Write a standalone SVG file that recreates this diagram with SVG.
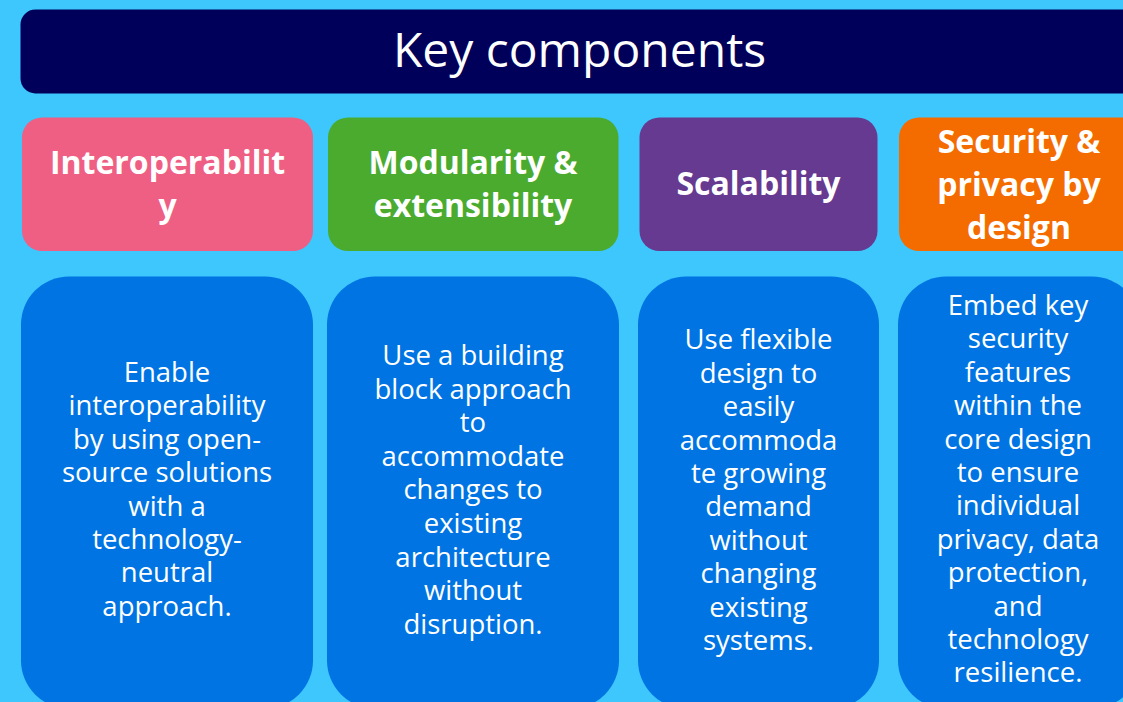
<svg xmlns="http://www.w3.org/2000/svg" width="1123" height="702" viewBox="0 0 1123 702">
<style>
.title{font-family:"Open Sans","Liberation Sans",sans-serif;font-size:48px;fill:#fff;text-anchor:middle}
.head{font-family:"Open Sans","Liberation Sans",sans-serif;font-weight:bold;font-size:32px;fill:#fff;text-anchor:middle}
.body{font-family:"Open Sans","Liberation Sans",sans-serif;font-size:27.5px;fill:#fff;text-anchor:middle}
.card{fill:#0074e3}
</style>
<rect x="0" y="0" width="1123" height="702" fill="#3dc7fd"/>
<g id="title">
<rect x="20.5" y="9.5" width="1125" height="84" rx="15" fill="#00005a"/>
<text class="title" x="579.5" y="67">Key components</text>
</g>
<g id="header-interoperability">
<rect x="22" y="117.5" width="291" height="133.5" rx="20" fill="#ef5f84"/>
<text class="head" x="167.5" y="174">Interoperabilit</text>
<text class="head" x="167.5" y="217">y</text>
</g>
<g id="header-modularity">
<rect x="328" y="117.5" width="290.5" height="133.5" rx="20" fill="#4aab2f"/>
<text class="head" x="473" y="174">Modularity &amp;</text>
<text class="head" x="473" y="217">extensibility</text>
</g>
<g id="header-scalability">
<rect x="639.5" y="117.5" width="238" height="133.5" rx="20" fill="#663a90"/>
<text class="head" x="758.5" y="195">Scalability</text>
</g>
<g id="header-security">
<rect x="899" y="117.5" width="245" height="133.5" rx="20" fill="#f46c00"/>
<text class="head" x="1019" y="152.5">Security &amp;</text>
<text class="head" x="1019" y="195.5">privacy by</text>
<text class="head" x="1019" y="238.5">design</text>
</g>
<g id="body-interoperability">
<rect class="card" x="21" y="276.5" width="292" height="432" rx="48"/>
<text class="body" x="167" y="382">Enable</text>
<text class="body" x="167" y="415.4">interoperability</text>
<text class="body" x="167" y="448.8">by using open-</text>
<text class="body" x="167" y="482.2">source solutions</text>
<text class="body" x="167" y="515.6">with a</text>
<text class="body" x="167" y="549">technology-</text>
<text class="body" x="167" y="582.4">neutral</text>
<text class="body" x="167" y="615.8">approach.</text>
</g>
<g id="body-modularity">
<rect class="card" x="327" y="276.5" width="292" height="432" rx="48"/>
<text class="body" x="473" y="365">Use a building</text>
<text class="body" x="473" y="398.6">block approach</text>
<text class="body" x="473" y="432.2">to</text>
<text class="body" x="473" y="465.8">accommodate</text>
<text class="body" x="473" y="499.4">changes to</text>
<text class="body" x="473" y="533">existing</text>
<text class="body" x="473" y="566.6">architecture</text>
<text class="body" x="473" y="600.2">without</text>
<text class="body" x="473" y="633.8">disruption.</text>
</g>
<g id="body-scalability">
<rect class="card" x="638" y="276.5" width="241" height="432" rx="48"/>
<text class="body" x="758.5" y="349.4">Use flexible</text>
<text class="body" x="758.5" y="382.8">design to</text>
<text class="body" x="758.5" y="416.2">easily</text>
<text class="body" x="758.5" y="449.6">accommoda</text>
<text class="body" x="758.5" y="483">te growing</text>
<text class="body" x="758.5" y="516.4">demand</text>
<text class="body" x="758.5" y="549.8">without</text>
<text class="body" x="758.5" y="583.2">changing</text>
<text class="body" x="758.5" y="616.6">existing</text>
<text class="body" x="758.5" y="650">systems.</text>
</g>
<g id="body-security">
<rect class="card" x="898" y="276.5" width="242" height="432" rx="48"/>
<text class="body" x="1018" y="315">Embed key</text>
<text class="body" x="1018" y="348.4">security</text>
<text class="body" x="1018" y="381.8">features</text>
<text class="body" x="1018" y="415.2">within the</text>
<text class="body" x="1018" y="448.6">core design</text>
<text class="body" x="1018" y="482">to ensure</text>
<text class="body" x="1018" y="515.4">individual</text>
<text class="body" x="1018" y="548.8">privacy, data</text>
<text class="body" x="1018" y="582.2">protection,</text>
<text class="body" x="1018" y="615.6">and</text>
<text class="body" x="1018" y="649">technology</text>
<text class="body" x="1018" y="682.4">resilience.</text>
</g>
</svg>
